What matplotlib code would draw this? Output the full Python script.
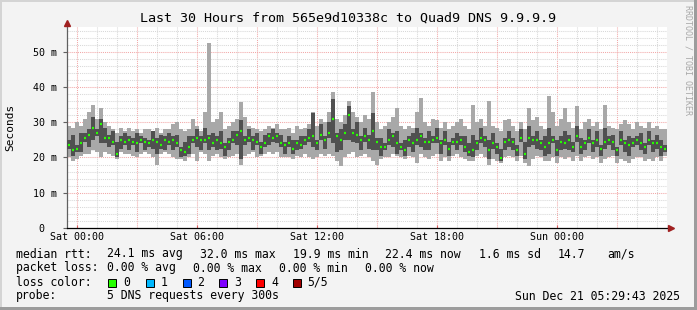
import numpy as np
import matplotlib
matplotlib.use('Agg')
import matplotlib.pyplot as plt
from matplotlib.patches import Rectangle

W, H = 697, 310
STEP = 0.2      # hours per sample (12 min)
T0 = -0.505     # start, hours relative to Sat 00:00

# median rtt per step (ms)
med = [23.5, 22.0, 22.5, 24.0, 25.5, 26.5, 28.5, 27.0, 29.5, 25.5,
       25.5, 24.5, 21.0, 25.0, 24.5, 25.0, 24.5, 24.0, 25.0, 24.5,
       24.0, 25.0, 24.5, 23.5, 25.0, 24.5, 25.0, 24.0, 22.0, 21.5,
       23.0, 25.0, 25.5, 25.0, 25.0, 25.5, 24.0, 25.0, 24.0, 23.0,
       24.5, 25.0, 26.5, 27.5, 25.0, 25.5, 25.0, 24.5, 23.0, 24.0,
       26.0, 25.5, 26.0, 24.0, 23.5, 24.0, 22.5, 24.0, 23.5, 25.0,
       25.5, 26.0, 24.0, 26.5, 25.0, 27.0, 31.0, 26.0, 25.0, 27.0,
       32.0, 27.0, 26.5, 25.0, 26.0, 25.0, 27.5, 24.5, 23.0, 23.0,
       25.0, 26.0, 24.0, 23.0, 22.0, 25.0, 24.0, 25.0, 26.0, 24.5,
       24.5, 25.0, 25.5, 24.0, 25.0, 22.5, 24.5, 24.5, 25.0, 23.0,
       21.5, 22.0, 24.0, 25.5, 25.0, 22.0, 24.0, 23.0, 19.9, 24.5,
       25.0, 24.5, 22.0, 25.5, 21.0, 25.5, 25.0, 25.0, 24.0, 23.0,
       24.0, 25.0, 22.0, 24.5, 24.0, 25.0, 23.0, 26.0, 23.0, 24.0,
       25.5, 24.0, 25.0, 22.5, 24.5, 25.0, 24.5, 22.0, 25.0, 24.0,
       23.5, 24.0, 25.0, 24.0, 23.0, 25.0, 24.0, 24.0, 23.0, 22.4]

# smoke: outer range (min..max ping)
hi = [29.0, 28.5, 30.0, 29.0, 31.0, 33.0, 35.0, 31.0, 34.0, 30.0,
      29.0, 28.0, 27.0, 28.5, 27.5, 28.5, 27.5, 28.0, 27.0, 28.0,
      28.0, 27.5, 28.5, 27.0, 28.0, 28.0, 29.5, 30.0, 28.0, 27.5,
      28.0, 31.0, 29.0, 27.5, 33.0, 52.5, 30.0, 31.0, 33.0, 28.0,
      29.0, 30.0, 31.0, 35.8, 31.5, 29.0, 28.5, 28.0, 27.5, 28.0,
      29.0, 28.5, 29.5, 28.0, 28.0, 28.5, 27.0, 29.0, 28.0, 28.5,
      29.5, 33.0, 29.0, 31.0, 30.0, 33.0, 38.5, 31.0, 30.0, 32.0,
      36.0, 33.0, 31.5, 30.0, 32.0, 31.0, 38.5, 30.0, 28.0, 29.0,
      30.0, 31.5, 34.0, 29.0, 28.0, 29.0, 28.5, 33.0, 37.0, 30.0,
      29.0, 31.0, 30.5, 28.5, 30.0, 28.0, 29.0, 30.0, 31.0, 29.0,
      28.0, 34.8, 30.0, 31.0, 29.0, 36.0, 29.0, 28.5, 27.5, 30.5,
      31.0, 29.0, 27.5, 30.0, 28.0, 34.0, 30.5, 31.5, 29.0, 28.0,
      37.5, 33.0, 29.0, 31.0, 34.0, 30.0, 28.5, 34.5, 28.0, 30.0,
      31.0, 29.0, 30.0, 28.0, 35.0, 29.0, 28.5, 28.0, 29.5, 30.5,
      29.5, 28.0, 30.0, 29.0, 28.5, 30.0, 28.5, 29.0, 28.0, 28.0]
lo = [20.0, 19.0, 19.5, 20.5, 21.0, 21.0, 22.0, 21.5, 20.0, 21.5,
      21.0, 20.5, 19.5, 21.5, 21.0, 21.0, 20.5, 20.0, 21.0, 21.5,
      21.0, 20.0, 18.0, 21.0, 21.5, 21.0, 20.0, 19.5, 19.5, 19.0,
      20.0, 21.0, 19.0, 21.5, 21.0, 19.0, 20.5, 21.0, 20.0, 19.5,
      20.0, 20.5, 21.0, 18.0, 20.5, 21.0, 21.5, 20.0, 20.5, 21.0,
      21.5, 21.0, 21.5, 20.0, 20.0, 20.0, 19.5, 20.5, 20.0, 21.0,
      20.0, 19.5, 20.0, 21.0, 20.5, 21.0, 20.5, 19.0, 17.5, 20.0,
      21.0, 21.5, 20.0, 20.5, 21.0, 20.0, 19.0, 18.0, 19.5, 20.0,
      20.0, 21.0, 20.5, 20.0, 19.5, 20.5, 20.0, 18.5, 21.0, 20.0,
      19.5, 20.5, 21.0, 19.0, 20.0, 19.0, 20.5, 21.0, 20.0, 19.5,
      19.0, 19.0, 20.5, 21.0, 20.0, 18.0, 19.5, 19.0, 18.5, 20.0,
      20.5, 20.0, 19.0, 20.5, 18.5, 17.5, 19.5, 20.5, 20.0, 19.0,
      19.0, 20.0, 18.5, 20.0, 19.5, 20.0, 19.0, 20.5, 19.0, 20.0,
      20.5, 19.5, 20.0, 18.5, 19.5, 20.0, 20.5, 18.5, 19.5, 19.0,
      18.5, 19.5, 20.0, 20.0, 19.0, 19.5, 19.0, 20.0, 19.0, 20.5]

# smoke: inner range (2nd..4th ping)
ihi = [25.0, 26.5, 23.5, 27.0, 27.0, 28.0, 31.5, 28.0, 31.0, 28.5,
       26.5, 27.5, 24.5, 26.0, 27.0, 26.0, 25.5, 27.0, 26.0, 25.5,
       25.0, 27.5, 25.5, 26.5, 26.0, 27.0, 26.0, 26.5, 23.0, 24.5,
       26.0, 26.0, 28.0, 26.0, 28.5, 26.5, 27.0, 26.0, 27.5, 24.0,
       25.5, 27.5, 27.5, 30.5, 26.0, 28.0, 26.0, 27.0, 24.5, 26.5,
       27.0, 28.0, 27.0, 26.5, 24.5, 26.0, 25.0, 25.0, 26.0, 26.0,
       28.0, 32.5, 25.0, 29.5, 26.0, 30.0, 36.5, 27.0, 28.0, 29.5,
       34.5, 28.0, 30.0, 26.0, 28.5, 26.5, 32.5, 25.5, 25.5, 24.0,
       28.0, 27.0, 27.5, 24.0, 25.0, 26.0, 27.0, 28.5, 27.0, 25.5,
       27.5, 26.0, 28.5, 25.0, 27.5, 24.5, 25.5, 27.0, 26.0, 26.0,
       24.0, 26.5, 25.0, 28.5, 26.0, 25.0, 27.0, 24.0, 22.5, 25.5,
       27.5, 25.5, 23.5, 28.0, 24.5, 29.0, 26.0, 27.5, 25.0, 26.0,
       28.5, 26.0, 25.0, 26.0, 27.5, 26.5, 24.5, 29.0, 25.5, 25.0,
       28.0, 25.0, 27.5, 23.5, 28.5, 26.0, 26.5, 23.0, 27.5, 25.0,
       26.0, 25.5, 26.0, 27.0, 24.0, 27.5, 25.0, 26.5, 25.0, 23.5]
ilo = [22.5, 20.5, 21.5, 21.5, 24.5, 23.0, 25.0, 26.0, 24.0, 24.0,
       23.0, 23.5, 20.0, 22.5, 23.5, 22.0, 23.5, 21.5, 24.0, 22.0,
       23.0, 22.5, 21.0, 22.5, 22.0, 23.5, 22.0, 23.0, 20.0, 20.5,
       21.0, 24.0, 23.0, 22.0, 24.0, 22.0, 23.0, 22.0, 22.5, 20.5,
       22.0, 24.0, 23.5, 19.5, 23.5, 24.5, 22.0, 23.5, 21.0, 23.0,
       23.5, 24.5, 24.0, 23.0, 21.0, 23.0, 21.0, 22.0, 22.5, 23.5,
       24.5, 23.0, 22.0, 25.0, 22.5, 25.5, 24.0, 21.5, 22.0, 25.0,
       25.0, 24.5, 24.0, 22.0, 24.5, 22.5, 22.0, 22.0, 20.5, 22.0,
       23.5, 23.0, 21.0, 22.0, 20.5, 23.0, 21.5, 23.5, 23.0, 22.0,
       22.0, 24.0, 24.0, 21.0, 23.5, 20.5, 23.5, 22.0, 23.5, 21.5,
       20.5, 20.0, 22.0, 24.0, 23.0, 19.5, 22.5, 21.0, 19.0, 22.0,
       23.0, 22.0, 20.5, 24.5, 19.5, 23.0, 23.5, 22.5, 22.0, 20.5,
       21.0, 24.0, 20.5, 22.0, 22.5, 22.0, 21.5, 24.5, 21.0, 22.0,
       24.0, 21.5, 23.0, 20.5, 22.5, 23.5, 22.0, 20.5, 23.5, 21.5,
       20.5, 23.0, 23.5, 22.0, 21.0, 23.5, 21.5, 22.5, 20.5, 21.5]

hour_ticks = [0, 6, 12, 18, 24]
hour_labels = ['Sat 00:00', 'Sat 06:00', 'Sat 12:00', 'Sat 18:00', 'Sun 00:00']
y_ticks = [0, 10, 20, 30, 40, 50]
y_labels = ['0  ', '10 m', '20 m', '30 m', '40 m', '50 m']
loss_colors = ['#26ff00', '#00b8ff', '#0059ff', '#7e00ff', '#ff0000', '#a10000']
loss_labels = ['0', '1', '2', '3', '4', '5/5']

MONO = 'DejaVu Sans Mono'


def fx(x):
    return x / W


def fy(y):
    return 1 - y / H


fig = plt.figure(figsize=(W / 100, H / 100), dpi=100, facecolor='#f3f3f3')

# 3d-ish frame of the rrdtool canvas
fig.patches.append(Rectangle((0, fy(2)), 1, 2 / H, transform=fig.transFigure, color='#d4d4d4', lw=0))
fig.patches.append(Rectangle((0, 0), 2 / W, 1, transform=fig.transFigure, color='#d4d4d4', lw=0))
fig.patches.append(Rectangle((fx(694), 0), 3 / W, 1, transform=fig.transFigure, color='#9c9c9c', lw=0))
fig.patches.append(Rectangle((0, 0), 1, 3 / H, transform=fig.transFigure, color='#9c9c9c', lw=0))

ax = fig.add_axes([fx(67), fy(228), 600 / W, (228 - 27) / H])
ax.set_facecolor('white')
ax.set_xlim(T0, T0 + 30)
ax.set_ylim(0, 57)

# grid, drawn by hand: minor grey every hour / 2 m, major red every 3 h / 10 m
dot = (0, (1, 1))
for h in range(0, 30):
    c = '#f2a8a8' if h % 3 == 0 else '#d8d8d8'
    ax.axvline(h, color=c, lw=0.75, ls=dot, zorder=0)
for v in range(2, 57, 2):
    c = '#f2a8a8' if v % 10 == 0 else '#d8d8d8'
    ax.axhline(v, color=c, lw=0.75, ls=dot, zorder=0)

edges = T0 + STEP * np.arange(len(med) + 1)
ax.stairs(hi, edges, baseline=lo, fill=True, color='#a8a8a8', lw=0, zorder=2)
ax.stairs(ihi, edges, baseline=ilo, fill=True, color='#505050', lw=0, zorder=3)
ax.hlines(med, edges[:-1] + STEP * 0.15, edges[:-1] + STEP * 0.7,
          colors=loss_colors[0], lw=1.6, zorder=4)

for s in ['top', 'right']:
    ax.spines[s].set_visible(False)
ax.spines['bottom'].set_color('black')
ax.spines['left'].set_color('#606060')
ax.spines['bottom'].set_linewidth(0.9)
ax.spines['left'].set_linewidth(0.9)
ax.spines['bottom'].set_zorder(6)

ax.set_xticks(hour_ticks)
ax.set_xticklabels(hour_labels, fontfamily=MONO, fontsize=7.2)
ax.set_yticks(y_ticks)
ax.set_yticklabels(y_labels, fontfamily=MONO, fontsize=7.2)
ax.tick_params(axis='x', length=2, color='#e06060', pad=3, direction='in')
ax.tick_params(axis='y', length=3, color='#606060', pad=4)

# axis arrows
ax.plot([T0 + 30.2], [0], marker='>', ms=4, color='#a02020', clip_on=False, zorder=7)
ax.plot([T0], [58.2], marker='^', ms=4, color='#a02020', clip_on=False, zorder=7)

fig.text(fx(348), fy(18.5), 'Last 30 Hours from 565e9d10338c to Quad9 DNS 9.9.9.9',
         ha='center', va='center', fontfamily=MONO, fontsize=9.6)
fig.text(fx(10), fy(127), 'Seconds', rotation=90, ha='center', va='center',
         fontfamily=MONO, fontsize=8)
fig.text(fx(688), fy(5), 'RRDTOOL / TOBI OETIKER', rotation=-90, ha='center', va='top',
         fontfamily=MONO, fontsize=6, color='#a8a8a8')

fs = 8.3
row1 = [(16, 'median rtt:'), (107, '24.1 ms avg'), (200, '32.0 ms max'), (293, '19.9 ms min'),
        (385, '22.4 ms now'), (479, '1.6 ms sd'), (558, '14.7'), (607, 'am/s')]
row2 = [(16, 'packet loss:'), (107, '0.00 % avg'), (193, '0.00 % max'), (279, '0.00 % min'),
        (365, '0.00 % now')]
for x, t in row1:
    fig.text(fx(x), fy(254), t, va='center', fontfamily=MONO, fontsize=fs)
for x, t in row2:
    fig.text(fx(x), fy(268), t, va='center', fontfamily=MONO, fontsize=fs)

fig.text(fx(16), fy(282), 'loss color:', va='center', fontfamily=MONO, fontsize=fs)
box_x = [108, 145.5, 182.5, 219, 256, 292.5]
for bx, col, lab in zip(box_x, loss_colors, loss_labels):
    fig.patches.append(Rectangle((fx(bx), fy(286.5)), 8 / W, 8 / H, transform=fig.transFigure,
                                 facecolor=col, edgecolor='black', lw=0.7))
    fig.text(fx(bx + 15), fy(282), lab, va='center', fontfamily=MONO, fontsize=fs)

fig.text(fx(16), fy(296), 'probe:', va='center', fontfamily=MONO, fontsize=fs)
fig.text(fx(107), fy(296), '5 DNS requests every 300s', va='center', fontfamily=MONO, fontsize=fs)
fig.text(fx(680), fy(296), 'Sun Dec 21 05:29:43 2025', ha='right', va='center',
         fontfamily=MONO, fontsize=fs)

fig.savefig('out.png', dpi=100, facecolor=fig.get_facecolor())
